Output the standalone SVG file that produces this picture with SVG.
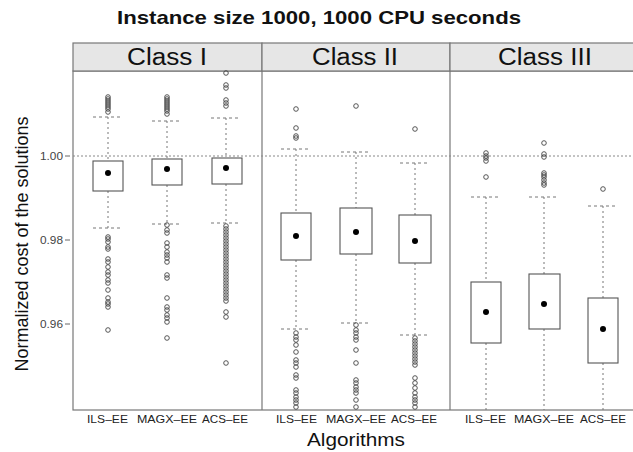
<svg xmlns="http://www.w3.org/2000/svg" width="633" height="452" viewBox="0 0 633 452">
<style>
text{font-family:"Liberation Sans",Arial,sans-serif;fill:#111}
.frame{fill:none;stroke:#777;stroke-width:1.2}
.hdr{fill:#e6e6e6;stroke:#777;stroke-width:1.2}
.ht{font-size:23.5px}
.box{fill:#fff;stroke:#555;stroke-width:1.1}
.wh{stroke:#777;stroke-width:1;stroke-dasharray:2 3;fill:none}
.cap{stroke:#777;stroke-width:1;stroke-dasharray:3 3;fill:none}
.ref{stroke:#888;stroke-width:1;stroke-dasharray:2 2;fill:none}
.o{fill:none;stroke:#444;stroke-width:0.9}
.m{fill:#000}
.tk{font-size:10.5px;fill:#444}
.xl{font-size:11px;fill:#222}
.tick{stroke:#666;stroke-width:1}
</style>
<rect width="633" height="452" fill="#fff"/>
<text x="117" y="24" style="font-size:18.5px;font-weight:bold" textLength="404" lengthAdjust="spacingAndGlyphs">Instance size 1000, 1000 CPU seconds</text>

<g id="axes">
<rect class="frame" x="73" y="71" width="565" height="339"/>
<line class="frame" x1="262" y1="43" x2="262" y2="410"/>
<line class="frame" x1="450" y1="43" x2="450" y2="410"/>
<line class="ref" x1="73" y1="156" x2="638" y2="156"/>
<line class="tick" x1="65" y1="156" x2="70" y2="156"/>
<line class="tick" x1="65" y1="240" x2="70" y2="240"/>
<line class="tick" x1="65" y1="324" x2="70" y2="324"/>
<text class="tk" x="40" y="159.5" textLength="23" lengthAdjust="spacingAndGlyphs">1.00</text>
<text class="tk" x="40" y="243.5" textLength="23" lengthAdjust="spacingAndGlyphs">0.98</text>
<text class="tk" x="40" y="327.5" textLength="23" lengthAdjust="spacingAndGlyphs">0.96</text>
<text x="28" y="244" transform="rotate(-90 28 244)" style="font-size:18px" text-anchor="middle">Normalized cost of the solutions</text>
<text x="307" y="446" style="font-size:18px" textLength="98" lengthAdjust="spacingAndGlyphs">Algorithms</text>
</g>

<g id="header-class1"><rect class="hdr" x="73" y="43" width="189" height="28"/><text class="ht" x="127" y="65" textLength="80" lengthAdjust="spacingAndGlyphs">Class I</text></g>
<g id="header-class2"><rect class="hdr" x="262" y="43" width="188" height="28"/><text class="ht" x="312" y="65" textLength="86" lengthAdjust="spacingAndGlyphs">Class II</text></g>
<g id="header-class3"><rect class="hdr" x="450" y="43" width="188" height="28"/><text class="ht" x="498" y="65" textLength="94" lengthAdjust="spacingAndGlyphs">Class III</text></g>

<g id="xlabels">
<text class="xl" x="87" y="423" textLength="41" lengthAdjust="spacingAndGlyphs">ILS–EE</text><text class="xl" x="137" y="423" textLength="60" lengthAdjust="spacingAndGlyphs">MAGX–EE</text><text class="xl" x="202" y="423" textLength="46" lengthAdjust="spacingAndGlyphs">ACS–EE</text>
<text class="xl" x="276" y="423" textLength="41" lengthAdjust="spacingAndGlyphs">ILS–EE</text><text class="xl" x="326" y="423" textLength="60" lengthAdjust="spacingAndGlyphs">MAGX–EE</text><text class="xl" x="391" y="423" textLength="46" lengthAdjust="spacingAndGlyphs">ACS–EE</text>
<text class="xl" x="465" y="423" textLength="41" lengthAdjust="spacingAndGlyphs">ILS–EE</text><text class="xl" x="514" y="423" textLength="60" lengthAdjust="spacingAndGlyphs">MAGX–EE</text><text class="xl" x="580" y="423" textLength="46" lengthAdjust="spacingAndGlyphs">ACS–EE</text>
</g>

<g id="c1-ils">
<line class="wh" x1="108" y1="117" x2="108" y2="161"/><line class="wh" x1="108" y1="191" x2="108" y2="228"/>
<line class="cap" x1="93" y1="117" x2="123" y2="117"/><line class="cap" x1="93" y1="228" x2="123" y2="228"/>
<rect class="box" x="93" y="161" width="30" height="30"/><circle class="m" cx="108" cy="173" r="3"/>
<g class="o"><circle cx="108" cy="97" r="2.3"/><circle cx="108" cy="99" r="2.3"/><circle cx="108" cy="101" r="2.3"/><circle cx="108" cy="103" r="2.3"/><circle cx="108" cy="105" r="2.3"/><circle cx="108" cy="107" r="2.3"/><circle cx="108" cy="109" r="2.3"/><circle cx="108" cy="112" r="2.3"/>
<circle cx="108" cy="237" r="2.3"/><circle cx="108" cy="239" r="2.3"/><circle cx="108" cy="242" r="2.3"/><circle cx="108" cy="247" r="2.3"/><circle cx="108" cy="249" r="2.3"/><circle cx="108" cy="259" r="2.3"/><circle cx="108" cy="262" r="2.3"/><circle cx="108" cy="267" r="2.3"/><circle cx="108" cy="272" r="2.3"/><circle cx="108" cy="275" r="2.3"/><circle cx="108" cy="280" r="2.3"/><circle cx="108" cy="283" r="2.3"/><circle cx="108" cy="290" r="2.3"/><circle cx="108" cy="298" r="2.3"/><circle cx="108" cy="302" r="2.3"/><circle cx="108" cy="304" r="2.3"/><circle cx="108" cy="307" r="2.3"/><circle cx="108" cy="330" r="2.3"/></g>
</g>

<g id="c1-magx">
<line class="wh" x1="167" y1="121" x2="167" y2="159"/><line class="wh" x1="167" y1="185" x2="167" y2="224"/>
<line class="cap" x1="152" y1="121" x2="182" y2="121"/><line class="cap" x1="152" y1="224" x2="182" y2="224"/>
<rect class="box" x="152" y="159" width="30" height="26"/><circle class="m" cx="167" cy="169" r="3"/>
<g class="o"><circle cx="167" cy="97" r="2.3"/><circle cx="167" cy="99" r="2.3"/><circle cx="167" cy="101" r="2.3"/><circle cx="167" cy="103" r="2.3"/><circle cx="167" cy="105" r="2.3"/><circle cx="167" cy="107" r="2.3"/><circle cx="167" cy="109" r="2.3"/><circle cx="167" cy="111" r="2.3"/><circle cx="167" cy="114" r="2.3"/>
<circle cx="167" cy="225" r="2.3"/><circle cx="167" cy="230" r="2.3"/><circle cx="167" cy="233" r="2.3"/><circle cx="167" cy="243" r="2.3"/><circle cx="167" cy="247" r="2.3"/><circle cx="167" cy="252" r="2.3"/><circle cx="167" cy="255" r="2.3"/><circle cx="167" cy="258" r="2.3"/><circle cx="167" cy="262" r="2.3"/><circle cx="167" cy="275" r="2.3"/><circle cx="167" cy="278" r="2.3"/><circle cx="167" cy="298" r="2.3"/><circle cx="167" cy="307" r="2.3"/><circle cx="167" cy="310" r="2.3"/><circle cx="167" cy="315" r="2.3"/><circle cx="167" cy="318" r="2.3"/><circle cx="167" cy="322" r="2.3"/><circle cx="167" cy="338" r="2.3"/></g>
</g>

<g id="c1-acs">
<line class="wh" x1="226" y1="118" x2="226" y2="158"/><line class="wh" x1="226" y1="184" x2="226" y2="223"/>
<line class="cap" x1="211" y1="118" x2="241" y2="118"/><line class="cap" x1="211" y1="223" x2="241" y2="223"/>
<rect class="box" x="212" y="158" width="30" height="26"/><circle class="m" cx="226" cy="168" r="3"/>
<g class="o"><circle cx="226" cy="73" r="2.3"/><circle cx="226" cy="85" r="2.3"/><circle cx="226" cy="88" r="2.3"/><circle cx="226" cy="100" r="2.3"/><circle cx="226" cy="103" r="2.3"/><circle cx="226" cy="106" r="2.3"/>
<circle cx="226" cy="226" r="2.3"/><circle cx="226" cy="229" r="2.3"/><circle cx="226" cy="232" r="2.3"/><circle cx="226" cy="235" r="2.3"/><circle cx="226" cy="238" r="2.3"/><circle cx="226" cy="241" r="2.3"/><circle cx="226" cy="244" r="2.3"/><circle cx="226" cy="247" r="2.3"/><circle cx="226" cy="250" r="2.3"/><circle cx="226" cy="253" r="2.3"/><circle cx="226" cy="256" r="2.3"/><circle cx="226" cy="259" r="2.3"/><circle cx="226" cy="262" r="2.3"/><circle cx="226" cy="265" r="2.3"/><circle cx="226" cy="268" r="2.3"/><circle cx="226" cy="271" r="2.3"/><circle cx="226" cy="274" r="2.3"/><circle cx="226" cy="277" r="2.3"/><circle cx="226" cy="280" r="2.3"/><circle cx="226" cy="283" r="2.3"/><circle cx="226" cy="286" r="2.3"/><circle cx="226" cy="289" r="2.3"/><circle cx="226" cy="292" r="2.3"/><circle cx="226" cy="295" r="2.3"/><circle cx="226" cy="298" r="2.3"/><circle cx="226" cy="301" r="2.3"/><circle cx="226" cy="312" r="2.3"/><circle cx="226" cy="317" r="2.3"/><circle cx="226" cy="363" r="2.3"/></g>
</g>

<g id="c2-ils">
<line class="wh" x1="296" y1="149" x2="296" y2="213"/><line class="wh" x1="296" y1="260" x2="296" y2="329"/>
<line class="cap" x1="281" y1="149" x2="311" y2="149"/><line class="cap" x1="281" y1="329" x2="311" y2="329"/>
<rect class="box" x="281" y="213" width="30" height="47"/><circle class="m" cx="296" cy="236" r="3"/>
<g class="o"><circle cx="296" cy="109" r="2.3"/><circle cx="296" cy="128" r="2.3"/><circle cx="296" cy="136" r="2.3"/><circle cx="296" cy="138" r="2.3"/>
<circle cx="296" cy="333" r="2.3"/><circle cx="296" cy="337" r="2.3"/><circle cx="296" cy="340" r="2.3"/><circle cx="296" cy="345" r="2.3"/><circle cx="296" cy="352" r="2.3"/><circle cx="296" cy="360" r="2.3"/><circle cx="296" cy="363" r="2.3"/><circle cx="296" cy="367" r="2.3"/><circle cx="296" cy="375" r="2.3"/><circle cx="296" cy="378" r="2.3"/><circle cx="296" cy="390" r="2.3"/><circle cx="296" cy="393" r="2.3"/><circle cx="296" cy="397" r="2.3"/><circle cx="296" cy="400" r="2.3"/><circle cx="296" cy="403" r="2.3"/><circle cx="296" cy="407" r="2.3"/></g>
</g>

<g id="c2-magx">
<line class="wh" x1="356" y1="152" x2="356" y2="208"/><line class="wh" x1="356" y1="254" x2="356" y2="323"/>
<line class="cap" x1="341" y1="152" x2="371" y2="152"/><line class="cap" x1="341" y1="323" x2="371" y2="323"/>
<rect class="box" x="340" y="208" width="32" height="46"/><circle class="m" cx="356" cy="232" r="3"/>
<g class="o"><circle cx="356" cy="106" r="2.3"/>
<circle cx="356" cy="325" r="2.3"/><circle cx="356" cy="330" r="2.3"/><circle cx="356" cy="333" r="2.3"/><circle cx="356" cy="337" r="2.3"/><circle cx="356" cy="340" r="2.3"/><circle cx="356" cy="350" r="2.3"/><circle cx="356" cy="363" r="2.3"/><circle cx="356" cy="380" r="2.3"/><circle cx="356" cy="383" r="2.3"/><circle cx="356" cy="387" r="2.3"/><circle cx="356" cy="390" r="2.3"/><circle cx="356" cy="393" r="2.3"/><circle cx="356" cy="400" r="2.3"/><circle cx="356" cy="407" r="2.3"/></g>
</g>

<g id="c2-acs">
<line class="wh" x1="415" y1="163" x2="415" y2="215"/><line class="wh" x1="415" y1="263" x2="415" y2="335"/>
<line class="cap" x1="400" y1="163" x2="430" y2="163"/><line class="cap" x1="400" y1="335" x2="430" y2="335"/>
<rect class="box" x="399" y="215" width="32" height="48"/><circle class="m" cx="415" cy="241" r="3"/>
<g class="o"><circle cx="415" cy="129" r="2.3"/>
<circle cx="415" cy="338" r="2.3"/><circle cx="415" cy="341" r="2.3"/><circle cx="415" cy="344" r="2.3"/><circle cx="415" cy="347" r="2.3"/><circle cx="415" cy="350" r="2.3"/><circle cx="415" cy="353" r="2.3"/><circle cx="415" cy="356" r="2.3"/><circle cx="415" cy="359" r="2.3"/><circle cx="415" cy="362" r="2.3"/><circle cx="415" cy="365" r="2.3"/><circle cx="415" cy="378" r="2.3"/><circle cx="415" cy="383" r="2.3"/><circle cx="415" cy="388" r="2.3"/><circle cx="415" cy="393" r="2.3"/><circle cx="415" cy="397" r="2.3"/><circle cx="415" cy="400" r="2.3"/><circle cx="415" cy="403" r="2.3"/><circle cx="415" cy="407" r="2.3"/></g>
</g>

<g id="c3-ils">
<line class="wh" x1="486" y1="197" x2="486" y2="282"/><line class="wh" x1="486" y1="343" x2="486" y2="410"/>
<line class="cap" x1="471" y1="197" x2="501" y2="197"/>
<rect class="box" x="471" y="282" width="30" height="61"/><circle class="m" cx="486" cy="312" r="3"/>
<g class="o"><circle cx="486" cy="153" r="2.3"/><circle cx="486" cy="156" r="2.3"/><circle cx="486" cy="158" r="2.3"/><circle cx="486" cy="161" r="2.3"/><circle cx="486" cy="177" r="2.3"/></g>
</g>

<g id="c3-magx">
<line class="wh" x1="544" y1="197" x2="544" y2="274"/><line class="wh" x1="544" y1="329" x2="544" y2="410"/>
<line class="cap" x1="529" y1="197" x2="559" y2="197"/>
<rect class="box" x="529" y="274" width="31" height="55"/><circle class="m" cx="544" cy="304" r="3"/>
<g class="o"><circle cx="544" cy="143" r="2.3"/><circle cx="544" cy="154" r="2.3"/><circle cx="544" cy="157" r="2.3"/><circle cx="544" cy="173" r="2.3"/><circle cx="544" cy="175" r="2.3"/><circle cx="544" cy="177" r="2.3"/><circle cx="544" cy="180" r="2.3"/><circle cx="544" cy="183" r="2.3"/><circle cx="544" cy="185" r="2.3"/></g>
</g>

<g id="c3-acs">
<line class="wh" x1="603" y1="206" x2="603" y2="298"/><line class="wh" x1="603" y1="363" x2="603" y2="410"/>
<line class="cap" x1="588" y1="206" x2="618" y2="206"/>
<rect class="box" x="588" y="298" width="30" height="65"/><circle class="m" cx="603" cy="329" r="3"/>
<g class="o"><circle cx="603" cy="189" r="2.3"/></g>
</g>
</svg>
